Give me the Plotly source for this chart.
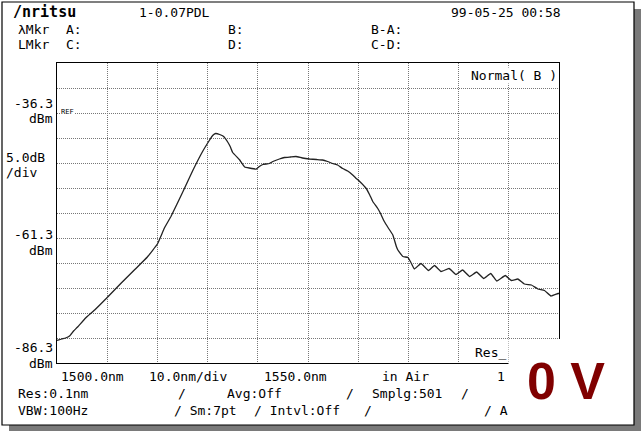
import plotly.graph_objects as go

# ---------------- data ----------------
wavelength_nm = [1500.0, 1500.9, 1501.7, 1502.5, 1503.3, 1504.1, 1505.7, 1507.5, 1510.1, 1512.8,
                 1515.4, 1518.0, 1520.0, 1521.4, 1522.7, 1525.1, 1527.1, 1529.0, 1530.4, 1531.0,
                 1531.6, 1532.4, 1533.2, 1534.0, 1534.5, 1535.0, 1536.4, 1537.4, 1538.3, 1539.7,
                 1540.3, 1541.0, 1542.3, 1543.0, 1544.3, 1545.3, 1546.5, 1547.6, 1548.9, 1550.3,
                 1551.7, 1552.9, 1553.9, 1554.9, 1555.9, 1556.9, 1557.9, 1558.9, 1559.5, 1560.3,
                 1561.6, 1562.3, 1562.9, 1563.9, 1564.4, 1565.2, 1566.0, 1566.9, 1567.6, 1567.9,
                 1568.9, 1569.9, 1570.5, 1571.2, 1572.5, 1574.0, 1575.2, 1576.5, 1578.1, 1579.5,
                 1580.8, 1582.2, 1583.6, 1585.0, 1586.4, 1587.6, 1589.3, 1590.5, 1591.8, 1593.1,
                 1594.5, 1595.8, 1597.1, 1598.4, 1599.8, 1600.0]
power_dbm = [-81.8, -81.5, -81.3, -80.9, -79.9, -79.1, -77.3, -75.7, -73.1, -70.3,
             -67.7, -65.1, -62.5, -59.3, -57.0, -52.0, -47.7, -44.0, -41.7, -40.8,
             -40.4, -40.6, -41.0, -42.1, -43.0, -44.2, -45.7, -47.1, -47.3, -47.5,
             -47.0, -46.6, -46.4, -46.0, -45.5, -45.2, -45.1, -45.0, -45.3, -45.5,
             -45.6, -45.7, -46.0, -46.4, -46.7, -47.4, -47.9, -48.7, -49.3, -50.0,
             -51.4, -52.7, -54.0, -55.4, -56.3, -58.0, -59.3, -60.7, -63.0, -63.7,
             -65.0, -65.2, -66.2, -67.5, -66.4, -67.8, -66.8, -68.0, -67.4, -68.6,
             -67.7, -69.0, -68.1, -69.4, -68.4, -69.9, -68.8, -69.8, -69.5, -70.5,
             -70.7, -71.5, -71.8, -72.9, -72.4, -72.4]

x_range = [1500.0, 1600.0]
y_range = [-86.3, -26.3]
y_tick_labels = ["-36.3", "-61.3", "-86.3"]

# ---------------- geometry helpers ----------------
W, H = 642, 431
L, R, T, B = 57, 559, 63, 363


def px(x):
    return (x - L) / (R - L)


def py(y):
    return (B - y) / (B - T)


MONO = "DejaVu Sans Mono"
FS = 13

fig = go.Figure()
fig.add_trace(go.Scatter(x=wavelength_nm, y=power_dbm, mode="lines",
                         line=dict(color="#222222", width=1.3, shape="spline", smoothing=0.3),
                         hoverinfo="skip", showlegend=False))

annotations = []


def txt(s, x, y, xanchor="left", size=FS, color="black", family=MONO, bg=None, bold=False):
    a = dict(text=("<b>%s</b>" % s) if bold else s, x=px(x), y=py(y), xref="paper", yref="paper",
             xanchor=xanchor, yanchor="middle", showarrow=False,
             font=dict(family=family, size=size, color=color))
    if bg:
        a["bgcolor"] = bg
        a["borderpad"] = 0
    annotations.append(a)


# header
txt("/nritsu", 11, 12, size=15, bold=True)
txt("1-0.07PDL", 137, 12)
txt("99-05-25 00:58", 449, 12)
txt("λMkr", 16, 30)
txt("A:", 64, 30)
txt("B:", 226, 30)
txt("B-A:", 369, 30)
txt("LMkr", 16, 45)
txt("C:", 64, 45)
txt("D:", 226, 45)
txt("C-D:", 369, 45)

# inside plot
txt("Normal( B )", 558, 75, xanchor="right", bg="white")
txt("REF", 60, 112, size=7, bg="white")
txt("Res_", 508, 352, xanchor="right")

# y labels
txt(y_tick_labels[0], 55, 103, xanchor="right")
txt("dBm", 55, 118, xanchor="right")
txt("5.0dB", 4, 157)
txt("/div", 4, 172)
txt(y_tick_labels[1], 55, 235, xanchor="right")
txt("dBm", 55, 250, xanchor="right")
txt(y_tick_labels[2], 55, 347, xanchor="right")
txt("dBm", 55, 363, xanchor="right")

# bottom rows
txt("1500.0nm", 59, 376)
txt("10.0nm/div", 147, 376)
txt("1550.0nm", 262, 376)
txt("in Air", 380, 376)
txt("1", 507, 376, xanchor="right")
txt("Res:0.1nm", 16, 393)
txt("/", 176, 393)
txt("Avg:Off", 225, 393)
txt("/", 344, 393)
txt("Smplg:501", 370, 393)
txt("/", 459, 393)
txt("VBW:100Hz", 16, 410)
txt("/ Sm:7pt", 172, 410)
txt("/ Intvl:Off", 252, 410)
txt("/", 362, 410)
txt("/ A", 482, 410)

# big "0 V" label
annotations.append(dict(text="<b>0 V</b>", x=px(566), y=py(381), xref="paper", yref="paper",
                        xanchor="center", yanchor="middle", showarrow=False,
                        font=dict(family="Liberation Sans", size=52, color="#800000")))

shapes = [
    # drop shadow (right and bottom strips)
    dict(type="rect", xref="paper", yref="paper", x0=px(634), x1=px(641), y0=py(9), y1=py(431),
         fillcolor="#7a7a7a", line=dict(width=0), layer="below"),
    dict(type="rect", xref="paper", yref="paper", x0=px(9), x1=px(641), y0=py(425), y1=py(431),
         fillcolor="#7a7a7a", line=dict(width=0), layer="below"),
    # frame
    dict(type="rect", xref="paper", yref="paper", x0=px(2), x1=px(634), y0=py(2), y1=py(425),
         fillcolor="rgba(0,0,0,0)", line=dict(color="black", width=1.2), layer="below"),
    # white patch behind "0 V"
    dict(type="rect", xref="paper", yref="paper", x0=px(508.5), x1=px(628), y0=py(339), y1=py(420),
         fillcolor="white", line=dict(width=0), layer="above"),
]

fig.update_layout(
    width=W, height=H,
    margin=dict(l=L, r=W - R, t=T, b=H - B, pad=0),
    paper_bgcolor="white", plot_bgcolor="rgba(0,0,0,0)",
    showlegend=False,
    xaxis=dict(range=x_range, tick0=1500, dtick=10, showgrid=True, gridcolor="#777777",
               griddash="1px,1px", gridwidth=1, zeroline=False, showticklabels=False, ticks="",
               showline=True, linecolor="black", linewidth=1.2, mirror=True, fixedrange=True),
    yaxis=dict(range=y_range, tick0=-86.3, dtick=5, showgrid=True, gridcolor="#777777",
               griddash="1px,1px", gridwidth=1, zeroline=False, showticklabels=False, ticks="",
               showline=True, linecolor="black", linewidth=1.2, mirror=True, fixedrange=True),
    annotations=annotations,
    shapes=shapes,
)

fig.write_html("out.html", config={"displayModeBar": False},
               post_script="document.body.style.margin='0';document.body.style.overflow='hidden';")
